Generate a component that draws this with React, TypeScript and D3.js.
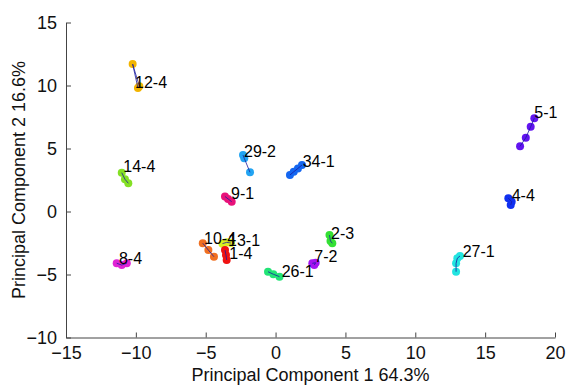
import React, { useEffect, useRef } from "react";
import * as d3 from "d3";

// cluster names, as printed next to each group
const clusterNames = [
  "12-4", "29-2", "34-1", "9-1", "5-1", "4-4", "14-4", "8-4",
  "10-4", "13-1", "1-4", "2-3", "7-2", "26-1", "27-1",
];

// principal component 1 of the replicates in each cluster
const pc1Values: number[][] = [
  [-9.85, -10.23, -9.75],
  [-2.33, -2.24, -1.83],
  [1.03, 1.3, 1.6, 1.89],
  [-3.62, -3.4, -3.14],
  [18.52, 18.26, 17.91, 17.5],
  [16.66, 16.9, 16.83],
  [-11.01, -10.78, -10.54],
  [-11.37, -11.01, -10.65],
  [-5.21, -4.81, -4.41],
  [-3.8, -3.5, -3.2],
  [-3.62, -3.55, -3.5],
  [3.86, 3.93, 4.06],
  [2.63, 2.87, 2.77],
  [-0.54, -0.16, 0.28],
  [13.2, 13.01, 12.92, 12.92],
];

// principal component 2 of the same replicates
const pc2Values: number[][] = [
  [9.8, 11.7, 9.95],
  [4.48, 4.22, 3.11],
  [2.9, 3.15, 3.42, 3.69],
  [1.19, 1.0, 0.78],
  [7.4, 6.73, 5.86, 5.17],
  [1.05, 0.78, 0.52],
  [3.08, 2.56, 2.24],
  [-4.11, -4.25, -4.11],
  [-2.52, -3.06, -3.59],
  [-2.55, -2.45, -2.5],
  [-3.06, -3.45, -3.85],
  [-1.87, -2.34, -2.52],
  [-4.11, -4.07, -4.25],
  [-4.78, -4.98, -5.17],
  [-3.53, -3.71, -4.11, -4.78],
];

// where each name was placed (data coordinates)
const labelPc1 = [-10.06, -2.26, 1.94, -3.19, 18.52, 16.9, -10.9, -11.21, -5.12, -3.4, -3.31, 3.97, 2.77, 0.44, 13.39];
const labelPc2 = [10.22, 4.76, 3.95, 1.44, 7.84, 1.31, 3.56, -3.71, -2.16, -2.26, -3.32, -1.73, -3.59, -4.78, -3.19];

const clusterColors = [
  "#f2b400", "#22a4f2", "#1466f0", "#e8127a", "#6214f0", "#1030f0", "#84e024", "#e024d4",
  "#f07022", "#dcf020", "#f01212", "#34e034", "#a414f0", "#22e476", "#22e4e0",
];

const xTicks = [-15, -10, -5, 0, 5, 10, 15, 20];
const yTicks = [-10, -5, 0, 5, 10, 15];

const App: React.FC = () => {
  const svgRef = useRef<SVGSVGElement | null>(null);

  useEffect(() => {
    if (!svgRef.current) return;
    const width = 578;
    const height = 392;
    const margin = { top: 22.5, right: 23, bottom: 54.5, left: 66 };

    const svg = d3.select(svgRef.current);
    svg.selectAll("*").remove();
    svg.attr("width", width).attr("height", height);

    const xScale = d3.scaleLinear().domain([-15, 20]).range([margin.left, width - margin.right]);
    const yScale = d3.scaleLinear().domain([-10, 15]).range([height - margin.bottom, margin.top]);

    const font = "Liberation Sans, Arial, sans-serif";

    // x axis, ticks pointing inward
    const xAxis = svg
      .append("g")
      .attr("transform", `translate(0,${height - margin.bottom})`)
      .call(d3.axisBottom(xScale).tickValues(xTicks).tickSizeInner(-5).tickSizeOuter(0).tickPadding(8.5).tickFormat(d3.format("d")));
    xAxis.selectAll("text").attr("font-size", 18).attr("font-family", font).attr("fill", "#111");

    const yAxis = svg
      .append("g")
      .attr("transform", `translate(${margin.left},0)`)
      .call(d3.axisLeft(yScale).tickValues(yTicks).tickSizeInner(-5).tickSizeOuter(0).tickPadding(9).tickFormat(d3.format("d")));
    yAxis.selectAll("text").attr("font-size", 18).attr("font-family", font).attr("fill", "#111");

    [xAxis, yAxis].forEach((g) => {
      g.select(".domain").attr("stroke", "#444");
      g.selectAll(".tick line").attr("stroke", "#444");
    });

    // clusters: dots first, then the thin line joining them
    clusterNames.forEach((name, i) => {
      const pts = pc1Values[i].map((v, j) => [v, pc2Values[i][j]] as [number, number]);
      svg
        .append("g")
        .selectAll("circle")
        .data(pts)
        .enter()
        .append("circle")
        .attr("cx", (d) => xScale(d[0]))
        .attr("cy", (d) => yScale(d[1]))
        .attr("r", 4)
        .attr("fill", clusterColors[i]);

      svg
        .append("path")
        .datum(pts)
        .attr("fill", "none")
        .attr("stroke", "#1a1aa0")
        .attr("stroke-width", 0.8)
        .attr(
          "d",
          d3
            .line<[number, number]>()
            .x((d) => xScale(d[0]))
            .y((d) => yScale(d[1]))
        );
    });

    // names
    svg
      .append("g")
      .selectAll("text")
      .data(clusterNames)
      .enter()
      .append("text")
      .attr("x", (d, i) => xScale(labelPc1[i]))
      .attr("y", (d, i) => yScale(labelPc2[i]))
      .attr("dy", "0.35em")
      .attr("font-size", 16)
      .attr("font-family", font)
      .attr("fill", "#000")
      .text((d) => d);

    // axis titles
    svg
      .append("text")
      .attr("x", (xScale(-15) + xScale(20)) / 2)
      .attr("y", 381)
      .attr("text-anchor", "middle")
      .attr("font-size", 18)
      .attr("font-family", font)
      .attr("fill", "#111")
      .text("Principal Component 1 64.3%");

    svg
      .append("text")
      .attr("transform", `translate(25,${(yScale(-10) + yScale(15)) / 2}) rotate(-90)`)
      .attr("text-anchor", "middle")
      .attr("font-size", 18)
      .attr("font-family", font)
      .attr("fill", "#111")
      .text("Principal Component 2 16.6%");
  }, []);

  return (
    <div style={{ position: "absolute", left: 0, top: 0, background: "#fff" }}>
      <svg ref={svgRef} style={{ display: "block" }} />
    </div>
  );
};

export default App;
